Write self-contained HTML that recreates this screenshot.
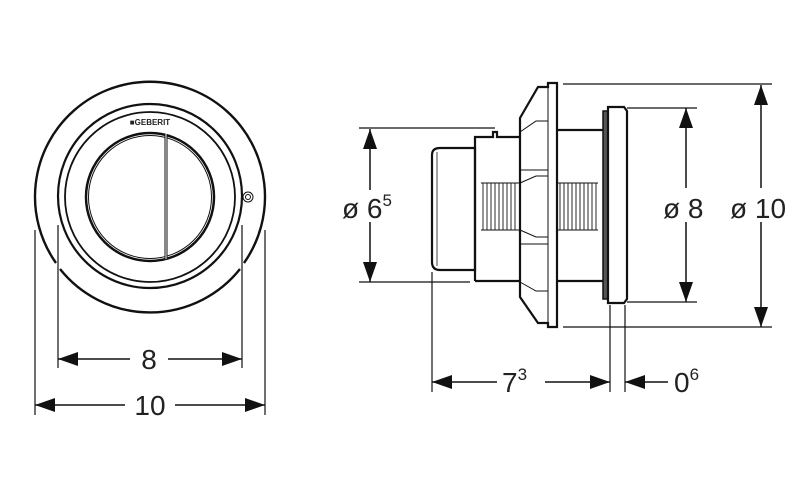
<!DOCTYPE html>
<html><head><meta charset="utf-8"><style>
html,body{margin:0;padding:0;background:#fff;}
svg{display:block;}
text{font-family:"Liberation Sans",sans-serif;fill:#222;}
</style></head><body>
<svg width="800" height="494" viewBox="0 0 800 494" xmlns="http://www.w3.org/2000/svg">
<defs>
<marker id="ah" markerWidth="20" markerHeight="14" refX="20" refY="7" orient="auto" markerUnits="userSpaceOnUse">
<path d="M0,0 L20,7 L0,14 Z" fill="#111"/></marker>
</defs>
<g fill="none" stroke="#111">
<!-- left view -->
<path d="M56,263 A115,115 0 1 1 244,263" stroke-width="2.4"/>
<path d="M60,269 A115,115 0 0 0 240,269" stroke-width="2.4"/>
<circle cx="150" cy="196" r="92" stroke-width="2.2"/>
<circle cx="150" cy="197" r="85" stroke-width="1.8"/>
<circle cx="150" cy="197" r="64" stroke-width="2.5"/>
<circle cx="150" cy="197" r="61.5" stroke-width="1"/>
<line x1="166" y1="134" x2="166" y2="259" stroke-width="3"/>
<line x1="166" y1="134" x2="166" y2="259" stroke="#fff" stroke-width="1"/>
<circle cx="248" cy="197" r="5" stroke-width="1"/>
<circle cx="248" cy="197" r="2.5" stroke-width="1"/>
<!-- left dims -->
<line x1="35" y1="230" x2="35" y2="415" stroke-width="1.2"/>
<line x1="265" y1="230" x2="265" y2="415" stroke-width="1.2"/>
<line x1="58" y1="225" x2="58" y2="368" stroke-width="1.2"/>
<line x1="242" y1="225" x2="242" y2="368" stroke-width="1.2"/>
<line x1="130" y1="359" x2="58" y2="359" stroke-width="1.5" marker-end="url(#ah)"/>
<line x1="168" y1="359" x2="242" y2="359" stroke-width="1.5" marker-end="url(#ah)"/>
<line x1="125" y1="405" x2="35" y2="405" stroke-width="1.5" marker-end="url(#ah)"/>
<line x1="175" y1="405" x2="265" y2="405" stroke-width="1.5" marker-end="url(#ah)"/>

<!-- side view -->
<path d="M432,155 Q432,148 440,148 L475,148 L475,270 L440,270 Q432,270 432,262 Z" stroke-width="2.2"/>
<line x1="437" y1="152" x2="437" y2="266" stroke-width="0.8"/>
<path d="M475,281 L475,137 L493,137 L493,132 L497,132 L497,137 L520,137" stroke-width="2.2"/>
<line x1="475" y1="281" x2="520" y2="281" stroke-width="2.2"/>
<path d="M520,118 L538,87 L548,87 L548,83 L557,83 L557,327 L548,327 L548,323 L538,323 L520,297 Z" stroke-width="2.2"/>
<line x1="548" y1="87" x2="548" y2="323" stroke-width="1"/>
<path d="M520,132 L536,121 L548,121 M520,183 L536,176 L548,176 M520,230 L536,237 L548,237 M520,282 L536,291 L548,291 M520,170 L548,170 M520,244 L548,244" stroke-width="1"/>
<path d="M557,130 L603,130 M557,281 L603,281" stroke-width="2.2"/>
<g stroke-width="0.9">
<path d="M483,183V230M487,183V230M491,183V230M495,183V230M499,183V230M503,183V230M507,183V230M511,183V230M515,183V230M560,183V230M564,183V230M568,183V230M572,183V230M576,183V230M580,183V230M584,183V230M588,183V230M592,183V230M596,183V230"/>
<path d="M481,183H520M481,230H520M557,183H598M557,230H598"/>
</g>
<rect x="603" y="111" width="5" height="188" fill="#555" stroke-width="1.5"/>
<path d="M608,107 L624,107 L627,111 L627,299 L624,303 L608,303 Z" stroke-width="2.2"/>
<!-- side dims -->
<line x1="359" y1="128" x2="495" y2="128" stroke-width="1.2"/>
<line x1="359" y1="282" x2="470" y2="282" stroke-width="1.2"/>
<line x1="370" y1="190" x2="370" y2="129" stroke-width="1.5" marker-end="url(#ah)"/>
<line x1="370" y1="222" x2="370" y2="282" stroke-width="1.5" marker-end="url(#ah)"/>
<line x1="563" y1="84" x2="772" y2="84" stroke-width="1.2"/>
<line x1="563" y1="327" x2="772" y2="327" stroke-width="1.2"/>
<line x1="627" y1="108" x2="697" y2="108" stroke-width="1.2"/>
<line x1="627" y1="302" x2="697" y2="302" stroke-width="1.2"/>
<line x1="686" y1="188" x2="686" y2="108" stroke-width="1.5" marker-end="url(#ah)"/>
<line x1="686" y1="222" x2="686" y2="302" stroke-width="1.5" marker-end="url(#ah)"/>
<line x1="761" y1="188" x2="761" y2="85" stroke-width="1.5" marker-end="url(#ah)"/>
<line x1="761" y1="222" x2="761" y2="327" stroke-width="1.5" marker-end="url(#ah)"/>
<line x1="432" y1="272" x2="432" y2="392" stroke-width="1.2"/>
<line x1="610" y1="305" x2="610" y2="392" stroke-width="1.2"/>
<line x1="625" y1="305" x2="625" y2="392" stroke-width="1.2"/>
<line x1="497" y1="382" x2="432" y2="382" stroke-width="1.5" marker-end="url(#ah)"/>
<line x1="545" y1="382" x2="610" y2="382" stroke-width="1.5" marker-end="url(#ah)"/>
<line x1="668" y1="382" x2="625" y2="382" stroke-width="1.5" marker-end="url(#ah)"/>
</g>
<text x="150" y="125" font-size="8" font-weight="bold" text-anchor="middle">■GEBERIT</text>
<text x="149" y="369" font-size="28" text-anchor="middle">8</text>
<text x="150" y="415" font-size="28" text-anchor="middle">10</text>
<text x="342" y="218" font-size="28">ø 6<tspan font-size="17" dy="-12">5</tspan></text>
<text x="663" y="218" font-size="28">ø 8</text>
<text x="730" y="218" font-size="28">ø 10</text>
<text x="502" y="392" font-size="28">7<tspan font-size="17" dy="-12">3</tspan></text>
<text x="674" y="392" font-size="28">0<tspan font-size="17" dy="-12">6</tspan></text>
</svg>
</body></html>
